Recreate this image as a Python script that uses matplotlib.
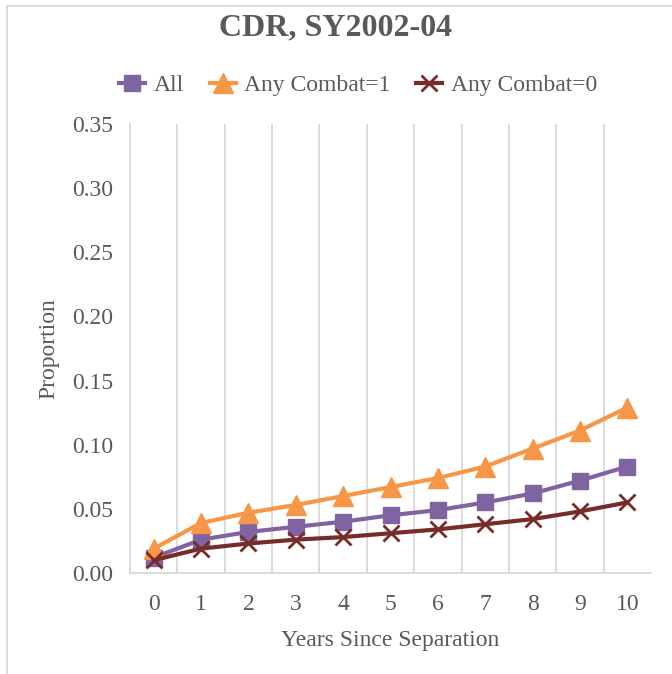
import matplotlib.pyplot as plt
from matplotlib.patches import Rectangle
import numpy as np

plt.rcParams['font.family'] = ['Liberation Serif', 'DejaVu Serif']

# data
years = [0, 1, 2, 3, 4, 5, 6, 7, 8, 9, 10]
all_vals = [0.012, 0.026, 0.032, 0.036, 0.040, 0.045, 0.049, 0.055, 0.062, 0.072, 0.083]
combat1 = [0.019, 0.039, 0.047, 0.053, 0.060, 0.067, 0.074, 0.083, 0.097, 0.111, 0.129]
combat0 = [0.010, 0.019, 0.023, 0.026, 0.028, 0.031, 0.034, 0.038, 0.042, 0.048, 0.055]
yticks = [0.00, 0.05, 0.10, 0.15, 0.20, 0.25, 0.30, 0.35]

txt = '#595959'
grid = '#D9D9D9'

fig = plt.figure(figsize=(6.72, 6.74), dpi=100)
ax = fig.add_axes([130/672, 1-573/674, 521/672, 449/674])

ax.plot(years, all_vals, color='#8064A2', lw=3, marker='s', ms=12, label='All', zorder=3)
ax.plot(years, combat1, color='#F79646', lw=3, marker='^', ms=14, label='Any Combat=1', zorder=3)
ax.plot(years, combat0, color='#772C2A', lw=3, marker='x', ms=12, mew=2, label='Any Combat=0', zorder=4)

ax.set_xlim(-0.5, 10.5)
ax.set_ylim(0, 0.35)
ax.set_xticks(years)
ax.set_yticks(yticks)
ax.set_yticklabels(['%.2f' % v for v in yticks])
for b in np.arange(0.5, 10, 1):
    ax.axvline(b, color=grid, lw=1.3, zorder=1)

for s in ['top', 'right']:
    ax.spines[s].set_visible(False)
ax.spines['left'].set_color(grid)
ax.spines['bottom'].set_color(grid)
ax.spines['left'].set_linewidth(1.3)
ax.spines['bottom'].set_linewidth(1.3)
ax.tick_params(axis='both', length=0, labelsize=17, colors=txt)
ax.tick_params(axis='y', pad=12)
ax.tick_params(axis='x', pad=15)

ax.set_xlabel('Years Since Separation', fontsize=17, color=txt, labelpad=11)
ax.set_ylabel('Proportion', fontsize=17, color=txt, labelpad=9)

fig.text(0.5, 1-28/674, 'CDR, SY2002-04', ha='center', va='center',
         fontsize=23, fontweight='bold', color=txt)
fig.legend(loc='center', bbox_to_anchor=(358/672, 1-85/674), ncol=3, frameon=False,
           fontsize=17, labelcolor=txt, handlelength=1.1, handletextpad=0.35,
           columnspacing=1.1)

fig.patches.append(Rectangle((7/672, -0.1), 1.2, 1.1 - 6/674, transform=fig.transFigure,
                             fill=False, edgecolor=grid, lw=1.3))

fig.savefig('out.png', dpi=100)
